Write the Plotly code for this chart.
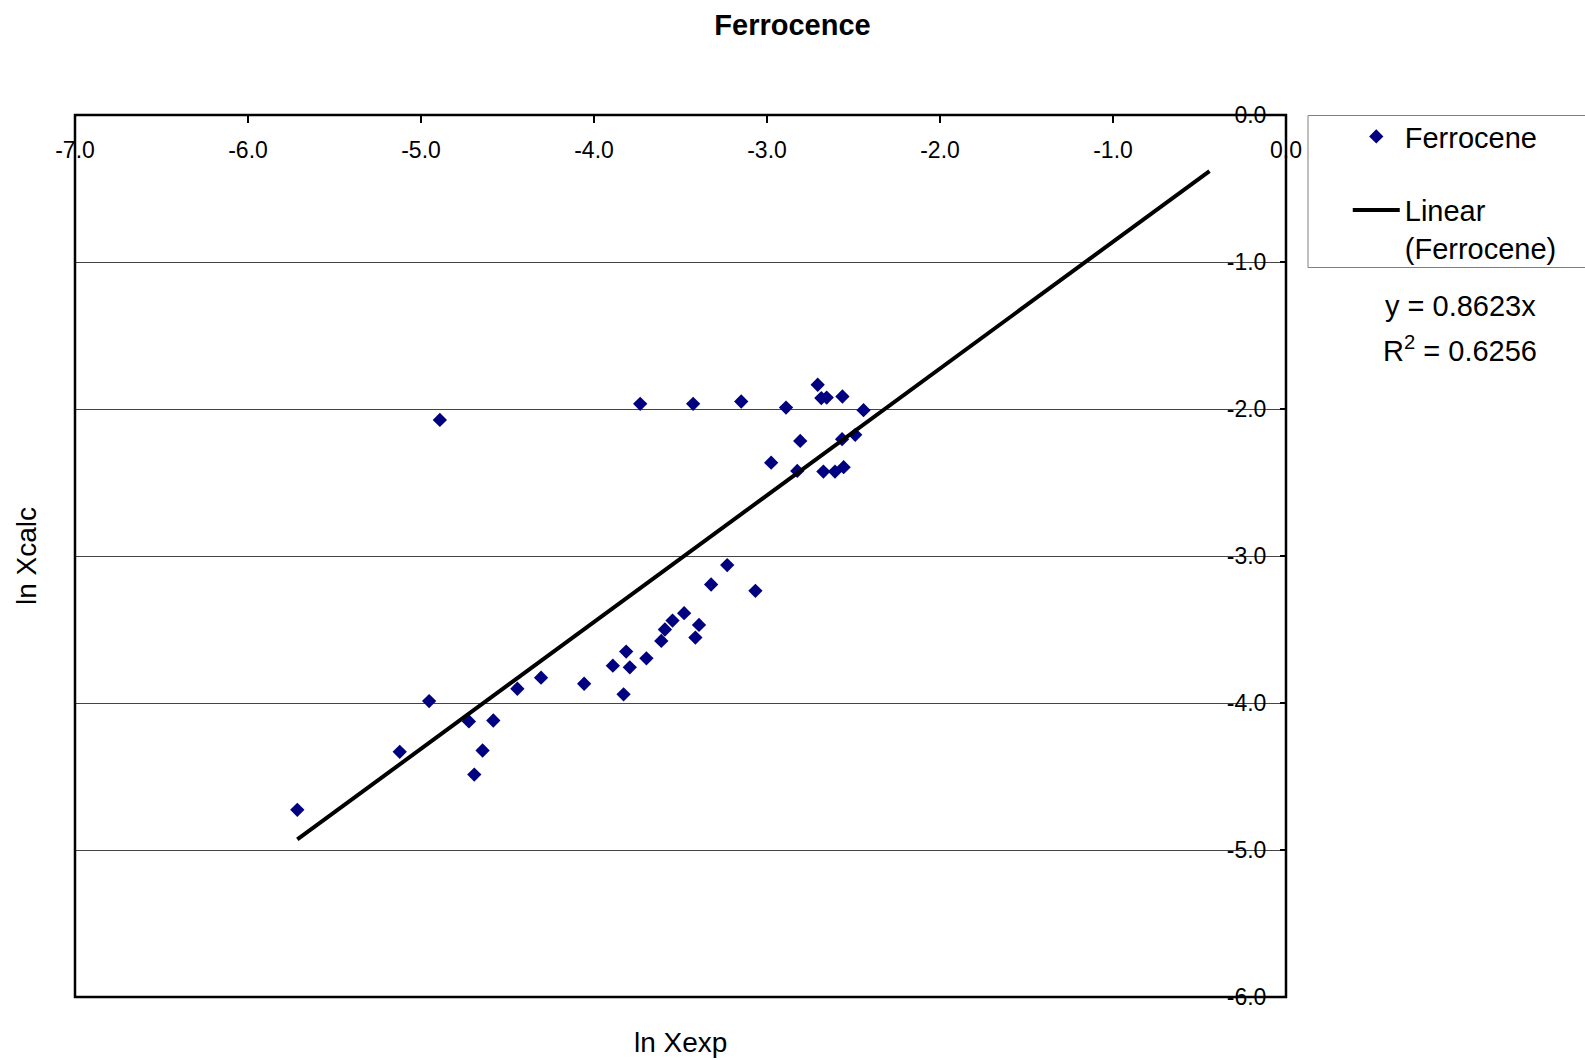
import plotly.graph_objects as go

# ln of experimental vs calculated mole fractions
ln_x_exp = [
    -5.715, -5.123, -4.953, -4.891, -4.723, -4.692, -4.644, -4.582, -4.443, -4.306,
    -4.057, -3.891, -3.829, -3.814, -3.793, -3.733, -3.697, -3.611, -3.590, -3.546,
    -3.479, -3.427, -3.414, -3.393, -3.323, -3.230, -3.149, -3.067, -2.976, -2.890,
    -2.825, -2.808, -2.707, -2.686, -2.674, -2.655, -2.607, -2.566, -2.564, -2.557,
    -2.490, -2.442,
]
ln_x_calc = [
    -4.727, -4.332, -3.987, -2.074, -4.125, -4.487, -4.323, -4.119, -3.903, -3.828,
    -3.869, -3.746, -3.941, -3.650, -3.757, -1.965, -3.696, -3.578, -3.500, -3.439,
    -3.389, -1.965, -3.555, -3.469, -3.194, -3.062, -1.949, -3.237, -2.365, -1.990,
    -2.421, -2.217, -1.835, -1.926, -2.426, -1.922, -2.426, -2.205, -1.915, -2.396,
    -2.176, -2.008,
]

# Linear trendline through the origin, extended 2 units forward
slope = 0.8623
r_squared = 0.6256
forecast_forward = 2.0

x_tick_vals = [-7, -6, -5, -4, -3, -2, -1, 0]
y_tick_vals = [0, -1, -2, -3, -4, -5, -6]
# plain hyphen-minus labels
x_tick_text = [f"{v:.1f}" for v in x_tick_vals]
y_tick_text = [f"{v:.1f}" for v in y_tick_vals]

fit_x = [min(ln_x_exp), max(ln_x_exp) + forecast_forward]
fit_y = [slope * v for v in fit_x]

FONT = "Liberation Sans, Arial, sans-serif"

fig = go.Figure()
fig.add_trace(go.Scatter(
    x=ln_x_exp, y=ln_x_calc, mode="markers", name="Ferrocene",
    legendgroup="a",
    marker=dict(symbol="diamond", size=11, color="#000080", line=dict(width=0)),
))
fig.add_trace(go.Scatter(
    x=fit_x, y=fit_y, mode="lines", name="Linear<br>(Ferrocene)",
    legendgroup="b",
    line=dict(color="black", width=4),
))

fig.update_layout(
    width=1585, height=1060,
    margin=dict(l=75, r=299, t=115, b=63),
    paper_bgcolor="white", plot_bgcolor="white",
    font=dict(family=FONT, color="black"),
    title=dict(text="<b>Ferrocence</b>", font=dict(size=29, family=FONT),
               xref="container", x=0.5, xanchor="center",
               yref="container", y=1 - 25 / 1060, yanchor="middle"),
    xaxis=dict(
        range=[-7, 0], tickvals=x_tick_vals, ticktext=x_tick_text,
        anchor="free", position=1, side="bottom",
        showgrid=False, zeroline=False, showline=False,
        ticks="outside", ticklen=7, tickwidth=1.5, tickcolor="black",
        tickfont=dict(size=23), ticklabelstandoff=7,
    ),
    yaxis=dict(
        range=[-6, 0], tickvals=y_tick_vals, ticktext=y_tick_text,
        anchor="free", position=1, side="left",
        showgrid=True, gridcolor="#444444", gridwidth=1,
        zeroline=False, showline=False,
        ticks="outside", ticklen=6, tickwidth=1.5, tickcolor="black",
        tickfont=dict(size=23), ticklabelstandoff=9,
    ),
    legend=dict(
        x=1.051, y=1.0045, xanchor="left", yanchor="top",
        bgcolor="rgba(0,0,0,0)", borderwidth=0,
        font=dict(size=29, family=FONT),
        itemwidth=47, traceorder="grouped", tracegroupgap=33, valign="top",
    ),
    showlegend=True,
)

# Plot frame
fig.add_shape(type="rect", xref="paper", yref="paper", x0=0, x1=1, y0=0, y1=1,
              line=dict(color="black", width=2.5), layer="above")
# Legend box (runs off the right edge)
fig.add_shape(type="rect", xref="paper", yref="paper",
              x0=(1308 - 75) / 1211, x1=1.4,
              y0=(997 - 267.5) / 882, y1=(997 - 115.5) / 882,
              line=dict(color="#808080", width=1))

# Axis titles
fig.add_annotation(text="ln Xexp", xref="paper", yref="paper",
                   x=(680 - 75) / 1211, y=(997 - 1042) / 882,
                   showarrow=False, font=dict(size=28, family=FONT),
                   xanchor="center", yanchor="middle")
fig.add_annotation(text="ln Xcalc", xref="paper", yref="paper",
                   x=(26 - 75) / 1211, y=(997 - 556) / 882, textangle=-90,
                   showarrow=False, font=dict(size=28, family=FONT),
                   xanchor="center", yanchor="middle")

# Trendline equation, one annotation per line
eq_lines = [f"y = {slope:.4f}x", f"R<sup>2</sup> = {r_squared:.4f}"]
eq_y_px = [306, 349]
for txt, ypx in zip(eq_lines, eq_y_px):
    fig.add_annotation(text=txt, xref="paper", yref="paper",
                       x=(1460 - 75) / 1211, y=(997 - ypx) / 882,
                       showarrow=False, font=dict(size=29, family=FONT),
                       xanchor="center", yanchor="middle")

fig.write_html("out.html")
